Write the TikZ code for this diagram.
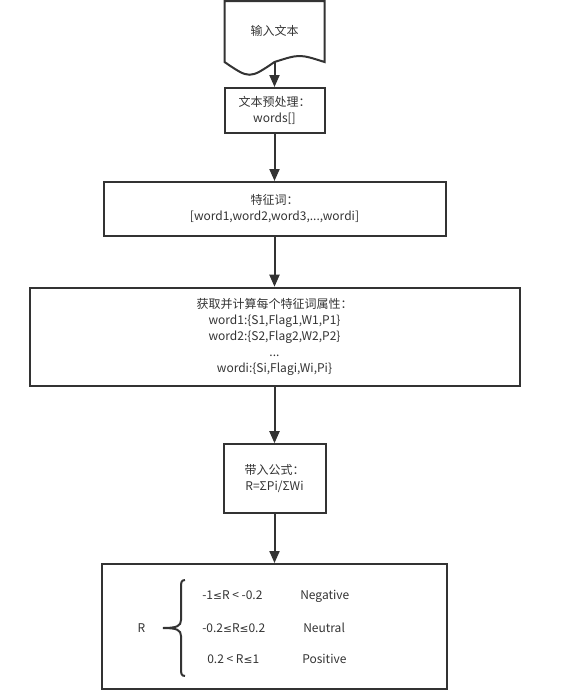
\documentclass[tikz,border=0pt]{standalone}
\usepackage{fontspec}
\setmainfont{Noto Sans CJK SC}
\newfontfamily\symfont{DejaVu Sans}
\usepackage{tikz}
\usetikzlibrary{arrows.meta}
\definecolor{ink}{HTML}{333333}
\newcommand{\lesym}{{\symfont\fontsize{8pt}{12pt}\selectfont ≤}}

\begin{document}
\begin{tikzpicture}[
  x=0.75pt, y=-0.75pt,
  every node/.style={font=\fontsize{9pt}{12pt}\selectfont, text=ink},
  proc/.style={rectangle, draw=ink, line width=1.5pt, align=center, inner sep=0pt},
  flow/.style={-{Triangle[length=9pt,width=7.5pt]}, draw=ink, line width=1.5pt},
  brace/.style={draw=ink, line width=1.5pt},
  lbl/.style={anchor=base west, inner sep=0pt}
]
\useasboundingbox (0,0) rectangle (575,693);

% ---------- Input document ----------
\draw[ink, line width=1.5pt] (224.5,1) -- (324.5,1) -- (324.5,62)
  .. controls (299.5,54) .. (274.5,62)
  .. controls (249.5,79) .. (224.5,62) -- cycle;
\node (input) at (274.5,31) {输入文本};
\coordinate (inbot) at (274.5,62);

% ---------- Processing steps ----------
\node[proc, minimum width=75pt, minimum height=33.75pt] (pre) at (274.5,110.5)
  {文本预处理：\\words[]};
\node[proc, minimum width=256.5pt, minimum height=40.5pt] (feat) at (274.5,209)
  {特征词：\\{}[word1,word2,word3,...,wordi]};
\node[proc, minimum width=367.5pt, minimum height=73.5pt] (attr) at (274.5,336.7)
  {获取并计算每个特征词属性：\\word1:\{S1,Flag1,W1,P1\}\\word2:\{S2,Flag2,W2,P2\}\\...\\wordi:\{Si,Flagi,Wi,Pi\}};
\node[proc, minimum width=76.5pt, minimum height=51.75pt] (formula) at (274.5,478.7)
  {带入公式：\\R=ΣPi/ΣWi};
\node[proc, minimum width=259.2pt, minimum height=94pt] (result) at (274.5,626.7) {};

% ---------- Arrows ----------
\draw[flow] (inbot) -- (pre);
\draw[flow] (pre) -- (feat);
\draw[flow] (feat) -- (attr);
\draw[flow] (attr) -- (formula);
\draw[flow] (formula) -- (result);

% ---------- Result classes ----------
\node (rval) at (141.5,628) {R};
\draw[brace] (185,580) .. controls (181,580) and (181,583) .. (181,588) -- (181,620)
  .. controls (181,626) and (177,628) .. (163,628)
  .. controls (177,628) and (181,630) .. (181,636) -- (181,668)
  .. controls (181,673) and (181,676) .. (185,676);
\node[lbl] (neg) at (202,599.5) {-1\lesym R < -0.2};
\node[lbl] (neu) at (202,632.5) {-0.2\lesym R\lesym 0.2};
\node[lbl] (pos) at (207,663.5) {0.2 < R\lesym 1};
\node[lbl] (negl) at (300,599.5) {Negative};
\node[lbl] (neul) at (303,632.5) {Neutral};
\node[lbl] (posl) at (302,663.5) {Positive};

\end{tikzpicture}
\end{document}
